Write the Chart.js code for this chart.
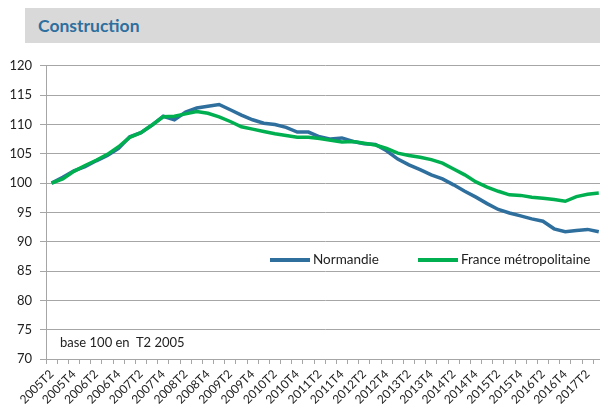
<!DOCTYPE html>
<html>
<head>
<meta charset="utf-8">
<script src="https://cdn.jsdelivr.net/npm/chart.js@4.4.1/dist/chart.umd.min.js"></script>
<style>
    body { margin: 0; width: 600px; height: 410px; overflow: hidden; background: #fff; font-family: Lato, sans-serif; position: relative; }
    #titre { position: absolute; left: 25px; top: 8px; width: 575px; height: 35px; background: #d9d9d9; }
    #titre span { position: absolute; left: 13px; top: 7px; font-weight: bold; font-size: 17.5px; color: #2e6f9e; }
    #wrap { position: absolute; left: 0; top: 50px; width: 612px; height: 359px; }
    .leg { position: absolute; top: 251px; font-size: 13.5px; color: #222; white-space: nowrap; }
    .leg i { display: inline-block; width: 40px; height: 4px; vertical-align: middle; margin-right: 3px; margin-top: -2px; }
    #base { position: absolute; left: 60px; top: 334px; font-size: 13px; color: #222; white-space: pre; }
</style>
</head>
<body>
<div id="titre"><span>Construction</span></div>
<div id="wrap"><canvas id="myChart" width="612" height="359"></canvas></div>
<div class="leg" style="left:270px"><i style="background:#2e6f9e"></i>Normandie</div>
<div class="leg" style="left:418px"><i style="background:#00b050"></i>France métropolitaine</div>
<div id="base">base 100 en  T2 2005</div>

<script>
// trimestres
var categories = [
    '2005T2', '2005T3', '2005T4', '2006T1', '2006T2', '2006T3', '2006T4', '2007T1', '2007T2', '2007T3',
    '2007T4', '2008T1', '2008T2', '2008T3', '2008T4', '2009T1', '2009T2', '2009T3', '2009T4', '2010T1',
    '2010T2', '2010T3', '2010T4', '2011T1', '2011T2', '2011T3', '2011T4', '2012T1', '2012T2', '2012T3',
    '2012T4', '2013T1', '2013T2', '2013T3', '2013T4', '2014T1', '2014T2', '2014T3', '2014T4', '2015T1',
    '2015T2', '2015T3', '2015T4', '2016T1', '2016T2', '2016T3', '2016T4', '2017T1', '2017T2', '2017T3'
];

var normandie = [
    100.0, 101.0, 102.1, 102.8, 103.8, 104.7, 105.9, 107.9, 108.6, 109.9,
    111.4, 110.8, 112.1, 112.8, 113.1, 113.4, 112.5, 111.6, 110.8, 110.2,
    110.0, 109.5, 108.7, 108.7, 107.9, 107.5, 107.7, 107.1, 106.7, 106.6,
    105.5, 104.1, 103.1, 102.3, 101.4, 100.7, 99.7, 98.6, 97.6, 96.5,
    95.5, 94.9, 94.4, 93.9, 93.5, 92.2, 91.7, 91.9, 92.1, 91.7
];

var france = [
    100.0, 100.7, 102.0, 103.0, 103.9, 104.9, 106.2, 107.8, 108.6, 109.9,
    111.3, 111.4, 111.8, 112.2, 111.9, 111.3, 110.5, 109.6, 109.2, 108.8,
    108.4, 108.1, 107.8, 107.8, 107.6, 107.3, 107.0, 107.1, 106.8, 106.5,
    105.9, 105.1, 104.7, 104.4, 104.0, 103.4, 102.4, 101.4, 100.2, 99.3,
    98.6, 98.0, 97.9, 97.6, 97.4, 97.2, 96.9, 97.7, 98.1, 98.3
];

var yMin = 70, yMax = 120, yStep = 5;

var axisColor = '#a6a6a6';
var txtColor = '#222';

var ctx = document.getElementById('myChart').getContext('2d');
var myChart = new Chart(ctx, {
    type: 'line',
    data: {
        labels: categories,
        datasets: [{
            label: 'Normandie',
            data: normandie,
            borderColor: '#2e6f9e',
            borderWidth: 3.5,
            pointRadius: 0,
            tension: 0,
            order: 1
        }, {
            label: 'France métropolitaine',
            data: france,
            borderColor: '#00b050',
            borderWidth: 3.5,
            pointRadius: 0,
            tension: 0,
            order: 0 // vert au-dessus
        }]
    },
    options: {
        responsive: false,
        animation: false,
        devicePixelRatio: 1,
        layout: {
            padding: { top: 13, right: 5, left: 0, bottom: 0 }
        },
        scales: {
            x: {
                offset: true,
                grid: {
                    drawOnChartArea: false,
                    offset: true,
                    tickLength: 5,
                    color: axisColor
                },
                border: { color: axisColor },
                ticks: {
                    autoSkip: false,
                    maxRotation: 45,
                    minRotation: 45,
                    padding: 3,
                    color: txtColor,
                    font: { family: 'Lato', size: 12 },
                    // une étiquette sur deux
                    callback: function (value, index) {
                        return index % 2 === 0 ? categories[index] : '';
                    }
                },
                afterFit: function (scale) {
                    scale.height = 50;
                }
            },
            y: {
                min: yMin,
                max: yMax,
                grid: {
                    color: axisColor,
                    tickLength: 6
                },
                border: { color: axisColor },
                ticks: {
                    stepSize: yStep,
                    padding: 8,
                    color: txtColor,
                    font: { family: 'Lato', size: 13 }
                },
                afterFit: function (scale) {
                    scale.width = 46;
                }
            }
        },
        plugins: {
            legend: { display: false },
            tooltip: { enabled: false }
        }
    }
});
</script>
</body>
</html>
